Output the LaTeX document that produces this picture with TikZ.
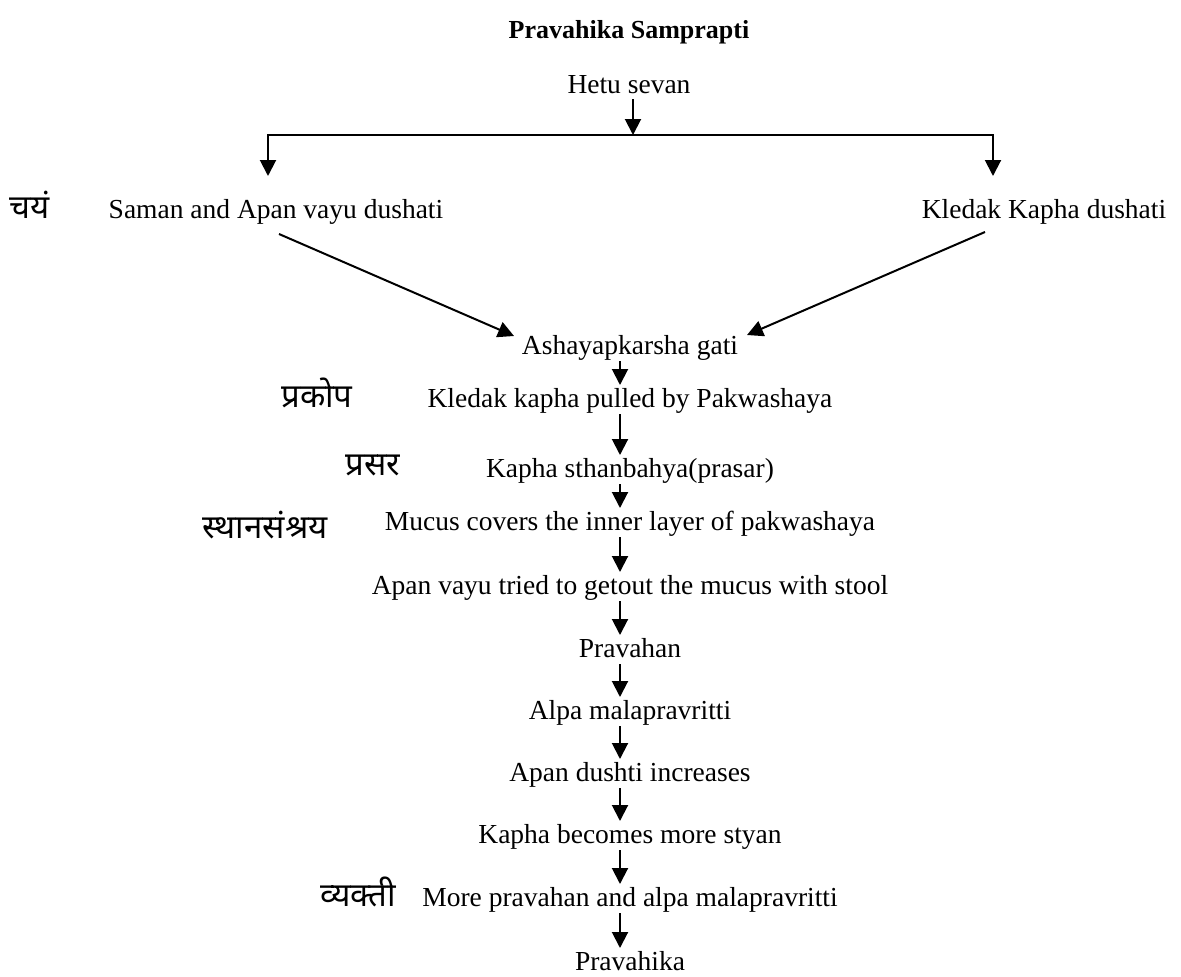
\documentclass[tikz,border=0pt]{standalone}
\usepackage{fontspec}
\setmainfont{Liberation Serif}
\newfontfamily\deva[Script=Devanagari]{Noto Sans}
\usetikzlibrary{arrows.meta}
\begin{document}
\begin{tikzpicture}[x=1pt,y=-1pt,
  txt/.style={anchor=base,inner sep=0pt,font=\fontsize{27.5}{32}\selectfont},
  dv/.style={anchor=base,inner sep=0pt,font=\deva\fontsize{33}{38}\selectfont},
  arr/.style={line width=2pt,-{Triangle[width=16pt,length=16pt]}},
  ln/.style={line width=2pt}]
\useasboundingbox (0,0) rectangle (1181,977);
\node[txt,font=\bfseries\fontsize{26}{30}\selectfont] (title) at (629,38) {Pravahika Samprapti};
\node[txt] (hetu) at (629,93) {Hetu sevan};
\node[txt] (saman) at (276,218) {Saman and Apan vayu dushati};
\node[txt] (kled) at (1044,218) {Kledak Kapha dushati};
\node[dv] (chay) at (30,218) {चयं};
\node[txt] (ash) at (630,354) {Ashayapkarsha gati};
\node[txt] (kk) at (630,407) {Kledak kapha pulled by Pakwashaya};
\node[dv] (prak) at (317,407) {प्रकोप};
\node[txt] (ks) at (630,477) {Kapha sthanbahya(prasar)};
\node[dv] (pras) at (373,475) {प्रसर};
\node[txt] (mu) at (630,530) {Mucus covers the inner layer of pakwashaya};
\node[dv] (sthan) at (265,538) {स्थानसंश्रय};
\node[txt] (av) at (630,594) {Apan vayu tried to getout the mucus with stool};
\node[txt] (pr) at (630,657) {Pravahan};
\node[txt] (al) at (630,719) {Alpa malapravritti};
\node[txt] (ad) at (630,781) {Apan dushti increases};
\node[txt] (kb) at (630,843) {Kapha becomes more styan};
\node[txt] (mp) at (630,906) {More pravahan and alpa malapravritti};
\node[dv] (vyak) at (358,906) {व्यक्ती};
\node[txt] (pk) at (630,970) {Pravahika};
% split
\coordinate (h0) at (633,99);
\coordinate (j) at (633,135);
\coordinate (jl) at (268,135);
\coordinate (jr) at (993,135);
\coordinate (tl) at (268,176);
\coordinate (tr) at (993,176);
\draw[arr] (h0) -- (j);
\draw[ln,line cap=rect] (jl) -- (jr);
\draw[arr] (jl) -- (tl);
\draw[arr] (jr) -- (tr);
% diagonals
\coordinate (sl) at (279,234);
\coordinate (el) at (514,336);
\coordinate (sr) at (985,232);
\coordinate (er) at (747,335);
\draw[arr] (sl) -- (el);
\draw[arr] (sr) -- (er);
% chain
\foreach \a/\b in {ash/kk,kk/ks,ks/mu,mu/av,av/pr,pr/al,al/ad,ad/kb,kb/mp,mp/pk}{
  \draw[arr] ([yshift=-7pt]\a.base -| 620,0) -- ([yshift=22pt]\b.base -| 620,0);
}
\end{tikzpicture}
\end{document}
